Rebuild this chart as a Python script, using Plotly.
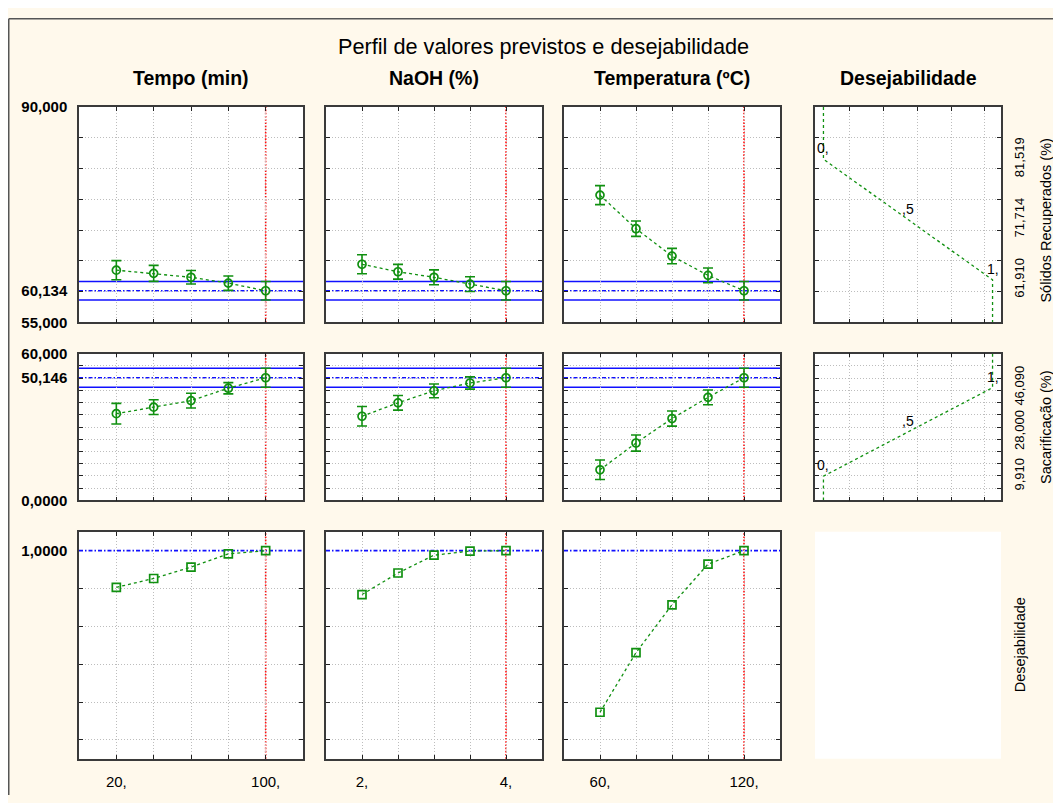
import plotly.graph_objects as go

# ---------------- data ----------------
tempo_levels = [20, 40, 60, 80, 100]
naoh_levels = [2.0, 2.5, 3.0, 3.5, 4.0]
temperatura_levels = [60, 75, 90, 105, 120]
current_levels = [100, 4.0, 120]

solidos_tempo = [63.48, 62.96, 62.32, 61.37, 60.134]
solidos_tempo_err = [1.55, 1.3, 1.1, 1.17, 1.5]
solidos_naoh = [64.44, 63.22, 62.32, 61.2, 60.134]
solidos_naoh_err = [1.54, 1.2, 1.2, 1.2, 1.5]
solidos_temp = [75.68, 70.22, 65.77, 62.64, 60.134]
solidos_temp_err = [1.54, 1.25, 1.25, 1.2, 1.5]

sacar_tempo = [35.47, 38.13, 40.8, 45.87, 50.146]
sacar_tempo_err = [4.2, 3.0, 3.0, 2.3, 3.9]
sacar_naoh = [34.4, 39.9, 44.8, 48.0, 50.146]
sacar_naoh_err = [4.0, 3.0, 2.8, 2.5, 3.9]
sacar_temp = [12.53, 23.47, 33.47, 42.13, 50.146]
sacar_temp_err = [4.0, 3.3, 3.1, 3.0, 3.9]

des_tempo = [0.806, 0.853, 0.913, 0.983, 1.0]
des_naoh = [0.768, 0.882, 0.976, 0.998, 1.0]
des_temp = [0.146, 0.461, 0.714, 0.929, 1.0]

pred_solidos, conf_solidos = 60.134, 1.5
pred_sacar, conf_sacar = 50.146, 3.9
pred_des = 1.0

d_levels = [0.0, 0.5, 1.0]
d_labels = ["0,", ",5", "1,"]
solidos_bp = [81.519, 71.714, 61.910]
sacar_bp = [9.910, 28.000, 46.090]

solidos_range = [55, 90]
sacar_range = [0, 60]
des_range = [-0.1, 1.1]
x_ranges = [[0, 120], [1.5, 4.5], [45, 135]]
des_x_range = [-0.05, 1.05]

solidos_ticks = [55, 60.134, 90]
solidos_ticktext = ["55,000", "60,134", "90,000"]
sacar_ticks = [0, 50.146, 60]
sacar_ticktext = ["0,0000", "50,146", "60,000"]
des_ticks = [1.0]
des_ticktext = ["1,0000"]
solidos_grid = [60, 65, 70, 75, 80, 85]
sacar_grid = [5, 10, 15, 20, 25, 30, 35, 40, 45, 50, 55]
des_grid = [0.0, 0.2, 0.4, 0.6, 0.8]
des_x_grid = [0.155, 0.355, 0.555, 0.755, 0.955]

col_titles = ["Tempo (min)", "NaOH (%)", "Temperatura (ºC)", "Desejabilidade"]
row_titles = ["Sólidos Recuperados (%)", "Sacarificação (%)", "Desejabilidade"]
title = "Perfil de valores previstos e desejabilidade"

# ---------------- layout helpers ----------------
OX, OY = 8, 8          # page (body) offset of the figure
W, H = 1061 - OX, 803 - OY
col_px = [(79, 303), (326, 542), (564, 780), (815, 1001)]
row_px = [(100, 320), (352, 502), (534, 766)]
GREEN = "#109010"
BLUE = "#1010ff"
RED = "#ff1010"
GRID = "#bdbdbd"
GRIDDASH = "1px,2px"
CREAM = "#fff9ec"
FONT = "Liberation Sans, Arial, sans-serif"

def px_x(p):
    return (p - OX) / W

def px_y(p):
    return 1 - (p - OY) / H

def xd(c):
    a, b = col_px[c]
    return [px_x(a), px_x(b)]

def yd(r):
    a, b = row_px[r]
    return [px_y(b), px_y(a)]

levels = [tempo_levels, naoh_levels, temperatura_levels]
row_data = [
    [(solidos_tempo, solidos_tempo_err), (solidos_naoh, solidos_naoh_err), (solidos_temp, solidos_temp_err)],
    [(sacar_tempo, sacar_tempo_err), (sacar_naoh, sacar_naoh_err), (sacar_temp, sacar_temp_err)],
    [(des_tempo, None), (des_naoh, None), (des_temp, None)],
]
row_ranges = [solidos_range, sacar_range, des_range]
row_ticks = [(solidos_ticks, solidos_ticktext), (sacar_ticks, sacar_ticktext), (des_ticks, des_ticktext)]
row_grid = [solidos_grid, sacar_grid, des_grid]
preds = [(pred_solidos, conf_solidos), (pred_sacar, conf_sacar), (pred_des, None)]

fig = go.Figure()
layout = dict(
    width=W, height=H, margin=dict(l=0, r=0, t=0, b=0),
    paper_bgcolor=CREAM, plot_bgcolor="white", showlegend=False,
    font=dict(family=FONT, color="black"),
)
shapes = []
annotations = []

axis_line = dict(showline=True, linecolor="#3a3a3a", linewidth=1.5, mirror="ticks", zeroline=False)
minor_style = dict(ticks="inside", ticklen=4, tickcolor="#222", tickwidth=1,
                   showgrid=True, gridcolor=GRID, griddash=GRIDDASH, gridwidth=1)

k = 0
for r in range(3):
    ncols = 4 if r < 2 else 3
    for c in range(ncols):
        k += 1
        sfx = "" if k == 1 else str(k)
        xn, yn = f"xaxis{sfx}", f"yaxis{sfx}"
        xr, yr = f"x{sfx}", f"y{sfx}"
        if c < 3:
            lv = levels[c]
            ttext = [f"{lv[0]:g},", "", "", "", f"{lv[-1]:g},"]
            layout[xn] = dict(domain=xd(c), anchor=yr, range=x_ranges[c], tickvals=lv, ticktext=ttext,
                              showticklabels=(r == 2), ticks="inside", ticklen=4, tickcolor="#222",
                              showgrid=True, gridcolor=GRID, griddash=GRIDDASH, gridwidth=1,
                              tickfont=dict(size=15), ticklabelstandoff=8, **axis_line)
            tv, tt = row_ticks[r]
            layout[yn] = dict(domain=yd(r), anchor=xr, range=row_ranges[r], tickvals=tv, ticktext=tt,
                              showticklabels=(c == 0), ticks="", showgrid=False,
                              tickfont=dict(size=15, weight="bold"), ticklabelstandoff=7,
                              minor=dict(tickvals=row_grid[r], **minor_style), **axis_line)
            vals, err = row_data[r][c]
            pv, cf = preds[r]
            xdom = f"{xr} domain"
            if cf is not None:
                for yv in (pv - cf, pv + cf):
                    shapes.append(dict(type="line", xref=xdom, yref=yr, x0=0, x1=1, y0=yv, y1=yv,
                                       line=dict(color=BLUE, width=1.6), layer="below"))
            shapes.append(dict(type="line", xref=xdom, yref=yr, x0=0, x1=1, y0=pv, y1=pv,
                               line=dict(color=BLUE, width=1.7, dash="4px,2px,1.5px,2px"), layer="below"))
            shapes.append(dict(type="line", xref=xr, yref=f"{yr} domain", x0=current_levels[c], x1=current_levels[c],
                               y0=0, y1=1, line=dict(color=RED, width=1.6, dash="1.6px,1.6px"), layer="below"))
            tr = dict(x=lv, y=vals, xaxis=xr, yaxis=yr, mode="lines+markers",
                      line=dict(color=GREEN, width=1.3, dash="3px,3px"),
                      marker=dict(symbol="circle-open" if r < 2 else "square-open", size=8,
                                  color=GREEN, line=dict(width=1.7, color=GREEN)),
                      hoverinfo="skip")
            if err is not None:
                tr["error_y"] = dict(type="data", array=err, color=GREEN, thickness=1.6, width=5)
            fig.add_trace(go.Scatter(**tr))
        else:
            layout[xn] = dict(domain=xd(c), anchor=yr, range=des_x_range, tickvals=des_x_grid,
                              showticklabels=False, ticks="inside", ticklen=4, tickcolor="#222",
                              showgrid=True, gridcolor=GRID, griddash=GRIDDASH, gridwidth=1, **axis_line)
            bp = solidos_bp if r == 0 else sacar_bp
            rng = row_ranges[r]
            layout[yn] = dict(domain=yd(r), anchor=xr, range=rng, side="right",
                              tickvals=bp, ticktext=[f"{v:.3f}".replace(".", ",") for v in bp],
                              tickangle=-90, tickfont=dict(size=13), ticks="", showgrid=False,
                              ticklabelstandoff=6,
                              minor=dict(tickvals=row_grid[r], **minor_style), **axis_line)
            cx = [d_levels[0]] + d_levels + [d_levels[-1]]
            if r == 0:
                cy = [rng[1]] + bp + [rng[0]]
            else:
                cy = [rng[0]] + bp + [rng[1]]
            fig.add_trace(go.Scatter(x=cx, y=cy, xaxis=xr, yaxis=yr, mode="lines",
                                     line=dict(color=GREEN, width=1.3, dash="3px,3px"), hoverinfo="skip"))
            for dv, lab, yv in zip(d_levels, d_labels, bp):
                annotations.append(dict(x=dv, y=yv, xref=xr, yref=yr, text=lab, showarrow=False,
                                        yshift=11, font=dict(size=14)))

# blank desirability panel (row 3, col 4)
xa = xd(3)
ya = yd(2)
shapes.append(dict(type="rect", xref="paper", yref="paper", x0=xa[0], x1=xa[1], y0=ya[0], y1=ya[1],
                   fillcolor="white", line=dict(width=0), layer="below"))
# outer frame (top and left edges)
shapes.append(dict(type="line", xref="paper", yref="paper", x0=px_x(8.75), x1=1, y0=px_y(9.75), y1=px_y(9.75),
                   line=dict(color="#555", width=1.5), layer="above"))
shapes.append(dict(type="line", xref="paper", yref="paper", x0=px_x(8.75), x1=px_x(8.75), y0=0, y1=px_y(9.75),
                   line=dict(color="#555", width=1.5), layer="above"))

# titles
annotations.append(dict(x=px_x(543), y=px_y(38), xref="paper", yref="paper", text=title, showarrow=False,
                        xanchor="center", yanchor="middle", font=dict(size=21.7)))
for c, t in enumerate(col_titles):
    a, b = col_px[c]
    annotations.append(dict(x=px_x((a + b) / 2), y=px_y(70), xref="paper", yref="paper", text=t,
                            showarrow=False, xanchor="center", yanchor="middle",
                            font=dict(size=19.5, weight="bold")))
row_title_pos = [(1046, 216), (1046, 427), (1020, 650)]
for (px, py), t in zip(row_title_pos, row_titles):
    annotations.append(dict(x=px_x(px), y=px_y(py), xref="paper", yref="paper", text=t, showarrow=False,
                            textangle=-90, xanchor="center", yanchor="middle", font=dict(size=14.5)))

layout["shapes"] = shapes
layout["annotations"] = annotations
fig.update_layout(**layout)
fig.write_html("out.html")
